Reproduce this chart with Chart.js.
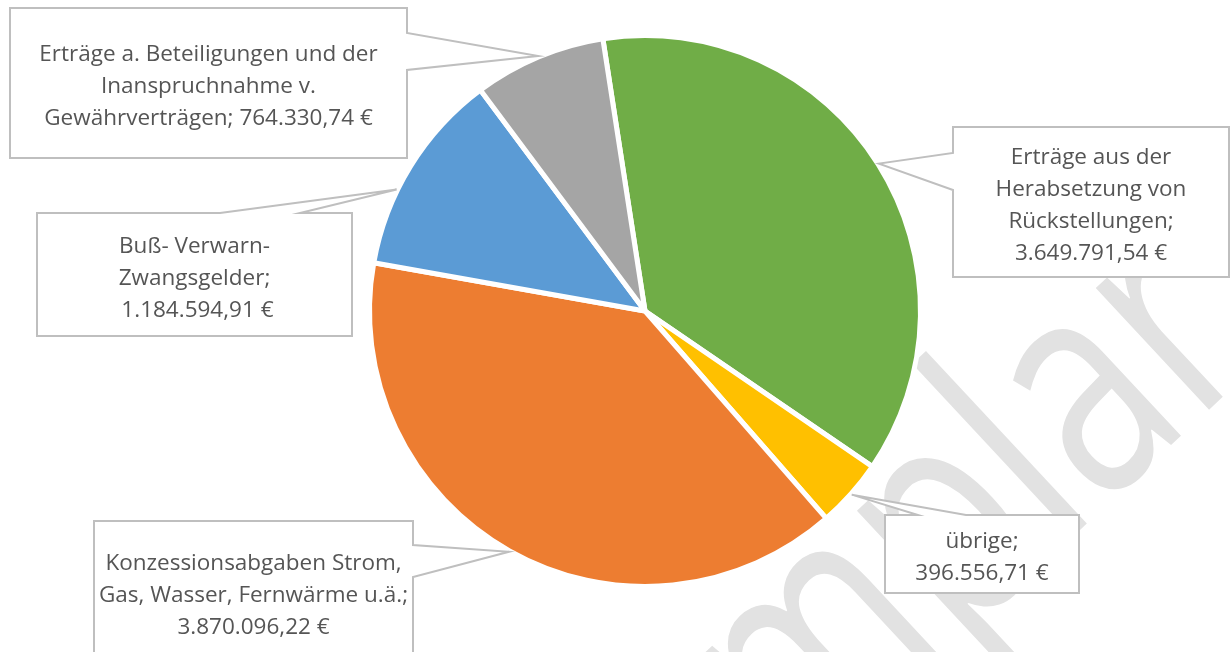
<!DOCTYPE html>
<html lang="de">
<head>
<meta charset="utf-8">
<script src="https://cdn.jsdelivr.net/npm/chart.js@4.4.0/dist/chart.umd.min.js"></script>
<style>
  html, body { margin: 0; padding: 0; background: #fff; }
  #wrap { width: 1230px; height: 652px; position: relative; overflow: hidden; }
</style>
</head>
<body>
<div id="wrap"><canvas id="pieChart" width="1230" height="652"></canvas></div>
<script>
// --- DATEN ---
const categories = [
    'Erträge aus der Herabsetzung von Rückstellungen',
    'übrige',
    'Konzessionsabgaben Strom, Gas, Wasser, Fernwärme u.ä.',
    'Buß- Verwarn- Zwangsgelder',
    'Erträge a. Beteiligungen und der Inanspruchnahme v. Gewährverträgen'
];
const values = [3649791.54, 396556.71, 3870096.22, 1184594.91, 764330.74];
const sliceColors = ['#70AD47', '#FFC000', '#ED7D31', '#5B9BD5', '#A5A5A5'];

// Zeilenumbrüche der Beschriftungen wie im Original ({v} = Betrag)
const labelLines = [
    ['Erträge aus der', 'Herabsetzung von', 'Rückstellungen;', '{v}'],
    ['übrige;', '{v}'],
    ['Konzessionsabgaben Strom,', 'Gas, Wasser, Fernwärme u.ä.;', '{v}'],
    ['Buß- Verwarn-', 'Zwangsgelder;', ' {v}'],
    ['Erträge a. Beteiligungen und der', 'Inanspruchnahme v.', 'Gewährverträgen; {v}']
];

// --- LAYOUT DER LEGENDENKÄSTEN ---
// box: [links, oben, rechts, unten], side: Seite mit der Spitze, wedge: Ansatz der Spitze,
// tipAt: Lage der Spitze entlang des Segments (0..1)
const callouts = [
    { box: [953, 127, 1229, 277], side: 'left', wedge: [153, 190], tipAt: 0.5 },
    { box: [885, 515, 1079, 593], side: 'top', wedge: [918, 966], tipAt: 0.5 },
    { box: [94, 521, 413, 662], side: 'right', wedge: [545, 577], tipAt: 0.5 },
    { box: [37, 213, 352, 336], side: 'top', wedge: [220, 300], tipAt: 0.37 },
    { box: [10, 8, 407, 158], side: 'right', wedge: [33, 70], tipAt: 0.5 }
];

const FONT = '"Open Sans", "Noto Sans", sans-serif';

function fmtEuro(v) {
    const [int, dec] = v.toFixed(2).split('.');
    return int.replace(/\B(?=(\d{3})+(?!\d))/g, '.') + ',' + dec + ' €';
}

function calloutPath(ctx, c, tip) {
    const [x1, y1, x2, y2] = c.box;
    const [a, b] = c.wedge;
    ctx.beginPath();
    ctx.moveTo(x1, y1);
    if (c.side === 'top') { ctx.lineTo(a, y1); ctx.lineTo(tip.x, tip.y); ctx.lineTo(b, y1); }
    ctx.lineTo(x2, y1);
    if (c.side === 'right') { ctx.lineTo(x2, a); ctx.lineTo(tip.x, tip.y); ctx.lineTo(x2, b); }
    ctx.lineTo(x2, y2);
    ctx.lineTo(x1, y2);
    if (c.side === 'left') { ctx.lineTo(x1, b); ctx.lineTo(tip.x, tip.y); ctx.lineTo(x1, a); }
    ctx.closePath();
}

const calloutPlugin = {
    id: 'callouts',
    beforeDraw(chart) {
        // Wasserzeichen "Exemplar"
        const ctx = chart.ctx;
        ctx.save();
        ctx.translate(1080, 530);
        ctx.rotate(-43 * Math.PI / 180);
        ctx.scale(1, 1.35);
        ctx.font = '230px ' + FONT;
        ctx.fillStyle = '#e2e2e2';
        ctx.textBaseline = 'alphabetic';
        const pre = ctx.measureText('Exemp').width;
        const lw = ctx.measureText('l').width;
        ctx.fillText('Exemplar', -pre - lw / 2, 0);
        ctx.restore();
    },
    afterDatasetsDraw(chart) {
        const ctx = chart.ctx;
        const arcs = chart.getDatasetMeta(0).data;
        ctx.save();
        arcs.forEach((arc, i) => {
            const c = callouts[i];
            const ang = arc.startAngle + (arc.endAngle - arc.startAngle) * c.tipAt;
            const r = arc.outerRadius + 1;
            const tip = { x: arc.x + Math.cos(ang) * r, y: arc.y + Math.sin(ang) * r };

            calloutPath(ctx, c, tip);
            ctx.fillStyle = '#ffffff';
            ctx.fill();
            ctx.lineWidth = 2;
            ctx.strokeStyle = '#bfbfbf';
            ctx.lineJoin = 'miter';
            ctx.stroke();

            const lines = labelLines[i].map(s => s.replace('{v}', fmtEuro(values[i])));
            const lh = 32;
            const [x1, y1, x2, y2] = c.box;
            const cx = (x1 + x2) / 2;
            const cy = (y1 + y2) / 2 + 4;
            ctx.fillStyle = '#555555';
            ctx.font = '22.5px ' + FONT;
            ctx.textAlign = 'center';
            ctx.textBaseline = 'middle';
            lines.forEach((t, k) => {
                ctx.fillText(t, cx, cy + (k - (lines.length - 1) / 2) * lh);
            });
        });
        ctx.restore();
    }
};

const pieCtx = document.getElementById('pieChart').getContext('2d');
const pieChart = new Chart(pieCtx, {
    type: 'pie',
    data: {
        labels: categories,
        datasets: [{
            data: values,
            backgroundColor: sliceColors,
            borderColor: '#ffffff',
            borderWidth: 5
        }]
    },
    options: {
        responsive: false,
        animation: false,
        rotation: -8.8,
        radius: 275.5,
        layout: { padding: { left: 60, right: 0, top: 0, bottom: 30 } },
        plugins: { legend: { display: false }, tooltip: { enabled: false } }
    },
    plugins: [calloutPlugin]
});
</script>
</body>
</html>
